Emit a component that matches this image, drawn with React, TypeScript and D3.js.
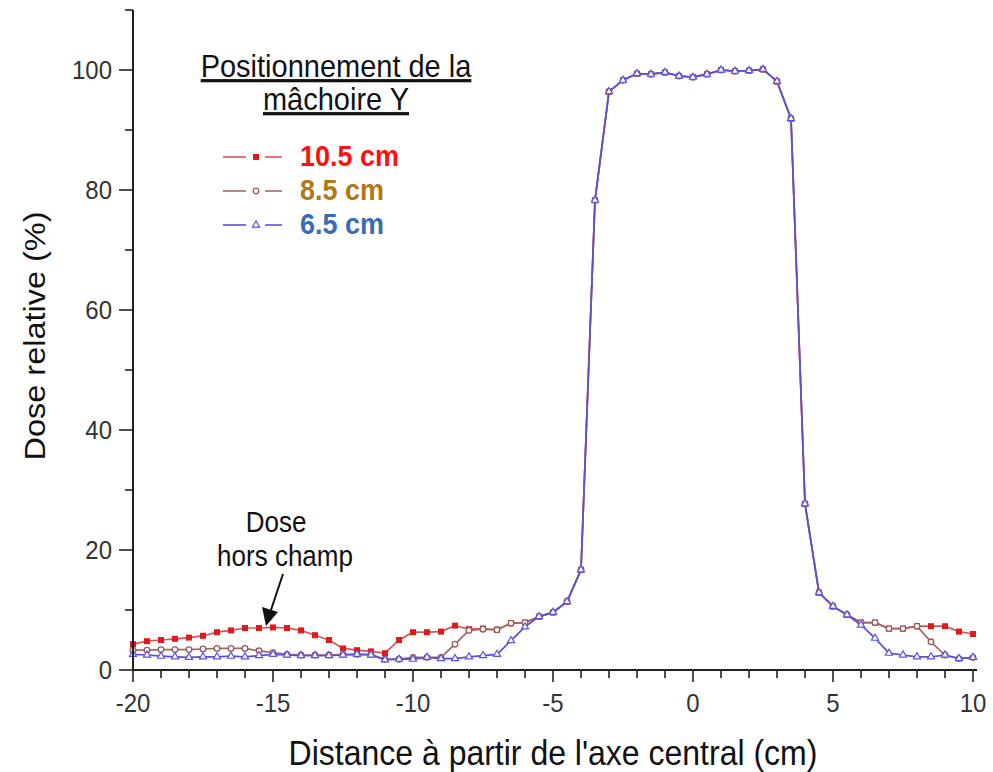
import React from "react";
import * as d3 from "d3";

const positions = [-20,-19.5,-19,-18.5,-18,-17.5,-17,-16.5,-16,-15.5,-15,-14.5,-14,-13.5,-13,-12.5,-12,-11.5,-11,-10.5,-10,-9.5,-9,-8.5,-8,-7.5,-7,-6.5,-6,-5.5,-5,-4.5,-4,-3.5,-3,-2.5,-2,-1.5,-1,-0.5,0,0.5,1,1.5,2,2.5,3,3.5,4,4.5,5,5.5,6,6.5,7,7.5,8,8.5,9,9.5,10];

const dose105 = [4.3,4.8,5.0,5.2,5.4,5.7,6.3,6.6,7.0,7.0,7.1,7.0,6.6,5.8,5.0,3.6,3.3,3.1,2.8,5.0,6.3,6.3,6.4,7.4,6.8,6.9,6.7,7.8,7.9,8.9,9.6,11.4,16.7,78.3,96.4,98.3,99.4,99.3,99.6,99.0,98.8,99.3,100,99.8,99.9,100.1,98.1,91.9,27.7,12.9,10.6,9.2,7.9,7.9,6.9,6.9,7.3,7.3,7.3,6.4,6.0];
const dose85 = [3.3,3.3,3.4,3.4,3.4,3.5,3.6,3.6,3.6,3.2,2.9,2.6,2.5,2.5,2.5,2.6,2.6,2.6,1.8,1.8,2.1,2.1,2.1,4.3,6.6,6.8,6.7,7.8,7.9,8.9,9.6,11.4,16.7,78.3,96.4,98.3,99.4,99.3,99.6,99.0,98.8,99.3,100,99.8,99.9,100.1,98.1,91.9,27.7,12.9,10.6,9.2,7.9,7.9,6.9,6.9,7.3,4.7,2.5,1.9,2.1];
const dose65 = [2.6,2.5,2.3,2.2,2.1,2.2,2.2,2.3,2.2,2.4,2.6,2.5,2.4,2.4,2.4,2.5,2.6,2.5,1.7,1.8,1.8,2.1,1.9,1.9,2.2,2.4,2.6,4.9,7.2,8.9,9.6,11.4,16.7,78.3,96.4,98.3,99.4,99.3,99.6,99.0,98.8,99.3,100,99.8,99.9,100.1,98.1,91.9,27.7,12.9,10.6,9.2,7.5,5.3,2.8,2.5,2.2,2.2,2.5,1.9,2.1];

const seriesLabels = ["10.5 cm", "8.5 cm", "6.5 cm"];
const xTicks = [-20, -15, -10, -5, 0, 5, 10];
const yTicks = [0, 20, 40, 60, 80, 100];

const FONT = "Liberation Sans, Arial, sans-serif";
const SY = 1.1;

function T(props: { x: number; y: number; size: number; anchor?: string; fill?: string; weight?: string; underline?: boolean; children: any }) {
  const { x, y, size, anchor = "start", fill = "#111", weight = "normal", underline = false, children } = props;
  return (
    <text
      transform={`translate(${x},${y}) scale(1,${SY})`}
      textAnchor={anchor as any}
      fontSize={size}
      fontWeight={weight}
      fill={fill}
      textDecoration={underline ? "underline" : undefined}
    >
      {children}
    </text>
  );
}

export default function App() {
  const x = d3.scaleLinear().domain([-20, 10]).range([133, 973]);
  const y = d3.scaleLinear().domain([0, 110]).range([670, 10]);

  const series = [
    { name: seriesLabels[0], values: dose105, line: "#d95555", mark: "#e01a1a", shape: "square", text: "#ff1010" },
    { name: seriesLabels[1], values: dose85, line: "#a06a6a", mark: "#9a5a5a", shape: "circle", text: "#b07818" },
    { name: seriesLabels[2], values: dose65, line: "#5a4fd8", mark: "#5a55e8", shape: "triangle", text: "#3a6cb0" },
  ];

  const line = d3.line<number>().x((_, i) => x(positions[i])).y((v) => y(v));
  const tri = d3.symbol().type(d3.symbolTriangle).size(22)();

  const marker = (shape: string, color: string, cx: number, cy: number, key: any) => {
    if (shape === "square")
      return <rect key={key} x={cx - 3} y={cy - 3} width={6} height={6} fill={color} />;
    if (shape === "circle")
      return <circle key={key} cx={cx} cy={cy} r={2.8} fill="white" stroke={color} strokeWidth={1.3} />;
    return <path key={key} d={tri as string} transform={`translate(${cx},${cy})`} fill="white" stroke={color} strokeWidth={1.2} />;
  };

  const minorY = d3.range(0, 111, 10);
  const minorX = d3.range(-20, 10.01, 1);

  return (
    <svg width={993} height={772} style={{ position: "absolute", left: 0, top: 0, background: "white" }} fontFamily={FONT}>
      <rect width={993} height={772} fill="white" />
      {series.map((s, si) => (
        <path key={si} d={line(s.values) as string} fill="none" stroke={s.line} strokeWidth={1.7} />
      ))}
      {series.map((s, si) => (
        <g key={"m" + si}>
          {s.values.map((v, i) => marker(s.shape, s.mark, x(positions[i]), y(v), i))}
        </g>
      ))}
      {/* axes */}
      <line x1={133} x2={133} y1={y(110)} y2={670} stroke="#222" strokeWidth={2} />
      <line x1={132} x2={977} y1={670} y2={670} stroke="#222" strokeWidth={2} />
      {minorY.map((t) => (
        <line key={"yt" + t} x1={t % 20 === 0 ? 119 : 125} x2={133} y1={y(t)} y2={y(t)} stroke="#222" strokeWidth={1.6} />
      ))}
      {minorX.map((t) => (
        <line key={"xt" + t} x1={x(t)} x2={x(t)} y1={670} y2={t % 5 === 0 ? 682 : 678} stroke="#222" strokeWidth={1.6} />
      ))}
      {yTicks.map((t) => (
        <T key={"yl" + t} x={112} y={y(t) + 9} size={24} anchor="end" fill="#333">{t}</T>
      ))}
      {xTicks.map((t) => (
        <T key={"xl" + t} x={x(t)} y={712} size={24} anchor="middle" fill="#333">{t}</T>
      ))}
      <T x={553} y={765} size={32} anchor="middle">Distance à partir de l'axe central (cm)</T>
      <text
        transform="translate(45,336) rotate(-90) scale(1.12,1)"
        textAnchor="middle"
        fontSize={29}
        fill="#111"
      >
        Dose relative (%)
      </text>
      {/* legend */}
      <T x={336} y={77} size={29} anchor="middle" underline>Positionnement de la</T>
      <T x={336} y={110} size={29} anchor="middle" underline>mâchoire Y</T>
      {series.map((s, si) => {
        const ly = 157 + si * 34;
        return (
          <g key={"lg" + si}>
            <line x1={223} x2={246} y1={ly} y2={ly} stroke={s.line} strokeWidth={1.6} />
            <line x1={265} x2={282} y1={ly} y2={ly} stroke={s.line} strokeWidth={1.6} />
            {marker(s.shape, s.mark, 256, ly, "lm" + si)}
            <T x={300} y={ly + 9} size={27} weight="bold" fill={s.text}>{s.name}</T>
          </g>
        );
      })}
      {/* annotation */}
      <T x={276} y={532} size={26} anchor="middle">Dose</T>
      <T x={285} y={566} size={26} anchor="middle">hors champ</T>
      <line x1={283} y1={574} x2={271} y2={610} stroke="#111" strokeWidth={2} />
      <path d="M 266 626 L 262 607 L 278 612 Z" fill="#111" />
    </svg>
  );
}
